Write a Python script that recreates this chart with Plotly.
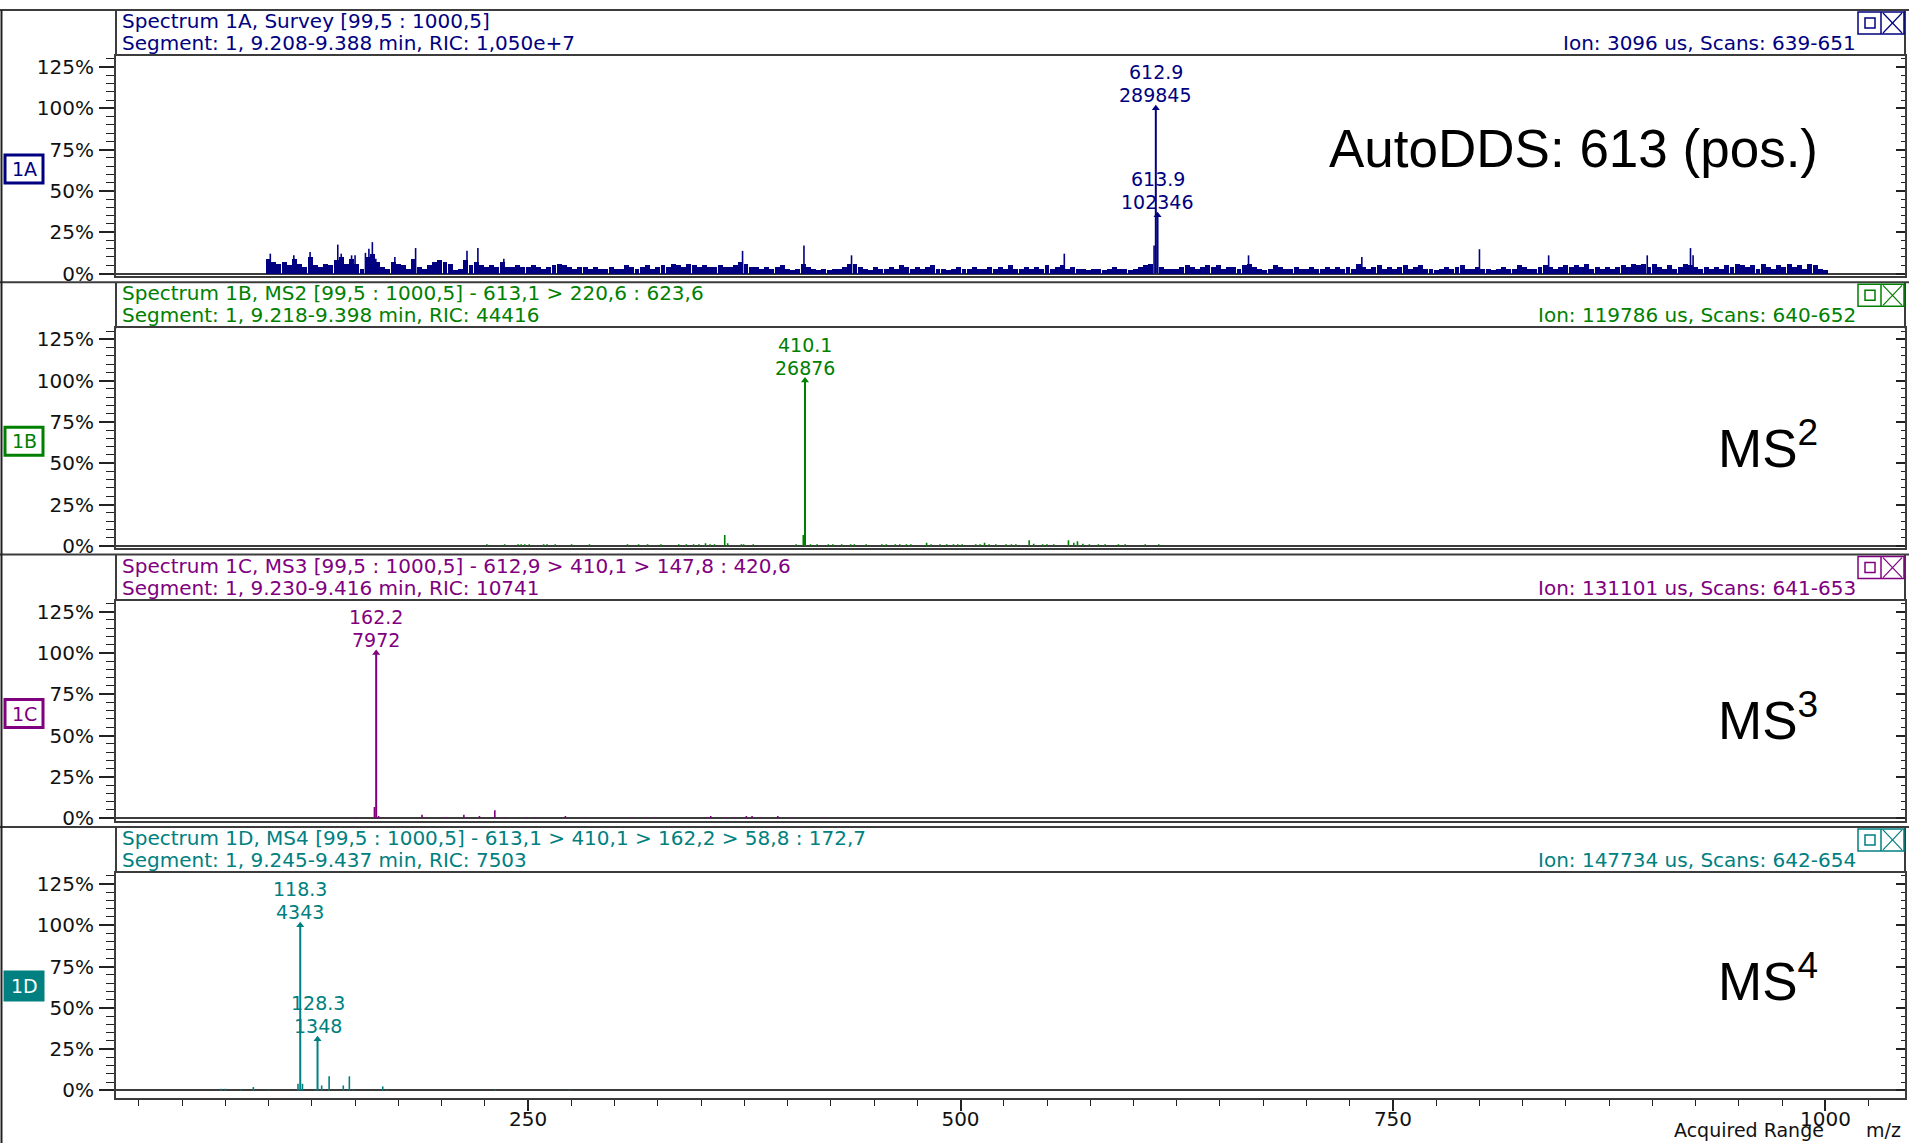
import plotly.graph_objects as go

W, H = 1909, 1143

# ---------------- data ----------------
panel_ids = ["1A", "1B", "1C", "1D"]
panel_colors = ["#000080", "#008000", "#800080", "#008080"]
header_line1 = [
    "Spectrum 1A, Survey [99,5 : 1000,5]",
    "Spectrum 1B, MS2 [99,5 : 1000,5] - 613,1 > 220,6 : 623,6",
    "Spectrum 1C, MS3 [99,5 : 1000,5] - 612,9 > 410,1 > 147,8 : 420,6",
    "Spectrum 1D, MS4 [99,5 : 1000,5] - 613,1 > 410,1 > 162,2 > 58,8 : 172,7",
]
header_line2 = [
    "Segment: 1, 9.208-9.388 min, RIC: 1,050e+7",
    "Segment: 1, 9.218-9.398 min, RIC: 44416",
    "Segment: 1, 9.230-9.416 min, RIC: 10741",
    "Segment: 1, 9.245-9.437 min, RIC: 7503",
]
header_right = [
    "Ion: 3096 us, Scans: 639-651",
    "Ion: 119786 us, Scans: 640-652",
    "Ion: 131101 us, Scans: 641-653",
    "Ion: 147734 us, Scans: 642-654",
]
big_labels = ["AutoDDS: 613 (pos.)", "MS<sup>2</sup>", "MS<sup>3</sup>", "MS<sup>4</sup>"]

y_tick_vals = [0, 25, 50, 75, 100, 125]
y_tick_text = ["0%", "25%", "50%", "75%", "100%", "125%"]
x_tick_vals = [250, 500, 750, 1000]
x_tick_text = ["250", "500", "750", "1000"]
x_range = [11.8, 1046.0]

# Spectrum 1A (survey): dense noise floor, m/z 100..1000 every 3
a_noise_mz = list(range(100, 1001, 3))
a_noise_pct = [
    9, 7, 6, 7, 5, 9, 6, 4, 10, 5,
    4, 6, 5, 8, 10, 6, 9, 6, 3, 10,
    12, 7, 4, 3, 7, 6, 5, 3, 9, 4,
    3, 5, 7, 8, 7, 6, 2, 3, 8, 5,
    7, 5, 4, 5, 4, 7, 4, 4, 5, 4,
    4, 5, 4, 3, 4, 5, 6, 5, 4, 3,
    4, 4, 3, 4, 3, 3, 4, 3, 3, 5,
    4, 3, 4, 5, 3, 4, 5, 4, 6, 5,
    4, 6, 5, 4, 5, 4, 4, 5, 4, 4,
    5, 7, 6, 4, 4, 3, 4, 3, 4, 5,
    3, 2, 3, 6, 4, 3, 2, 3, 2, 3,
    3, 4, 6, 6, 4, 3, 2, 4, 3, 3,
    4, 3, 5, 4, 3, 4, 3, 4, 5, 3,
    3, 2, 3, 4, 3, 3, 4, 3, 3, 4,
    3, 4, 3, 5, 3, 3, 4, 3, 4, 3,
    5, 3, 4, 5, 3, 4, 3, 3, 2, 3,
    3, 2, 3, 4, 3, 3, 2, 3, 4, 5,
    6, 0, 4, 3, 3, 3, 4, 5, 4, 3,
    4, 5, 4, 5, 3, 4, 4, 3, 5, 6,
    4, 3, 2, 3, 5, 4, 3, 3, 4, 3,
    3, 4, 3, 3, 4, 3, 4, 3, 4, 3,
    6, 4, 3, 4, 5, 3, 4, 3, 4, 5,
    3, 4, 5, 3, 3, 2, 3, 4, 3, 4,
    5, 3, 3, 4, 3, 3, 2, 3, 4, 3,
    3, 5, 4, 3, 3, 4, 5, 4, 3, 4,
    5, 4, 5, 4, 6, 3, 4, 3, 4, 3,
    4, 5, 4, 6, 5, 6, 4, 6, 4, 3,
    5, 3, 4, 6, 5, 4, 3, 4, 3, 4,
    3, 5, 4, 6, 5, 4, 5, 3, 6, 4,
    3, 5, 4, 6, 4, 5, 3, 6, 5, 3,
    2,
]
a_spike_mz = [101, 114.6, 124, 140, 142, 148, 150, 156, 158, 160,
              162, 173, 185, 214.7, 221, 236, 374, 409.5, 437, 560,
              611.9, 666.5, 732, 800, 840, 897, 922, 923.5]
a_spike_pct = [12, 11, 13, 17.5, 12, 11, 11, 12.5, 15, 19,
               9, 10, 15.4, 13.7, 15.4, 9, 13.7, 17, 11, 12,
               17, 11, 10, 14.7, 11, 11, 15.4, 11]
a_peak_mz = [612.9, 613.9]
a_peak_pct = [100.0, 35.3]
a_peak_int = ["289845", "102346"]

# Spectrum 1B (MS2)
b_small_mz = [226.2, 236.5, 244.2, 246.0, 248.1, 250.7, 259.0, 261.0, 265.7, 275.2,
              285.5, 307.5, 313.9, 319.1, 326.8, 337.1, 341.5, 345.7, 348.8, 352.6,
              355.2, 357.8, 363.7, 365.4, 373.3, 374.6, 380.2, 405.0, 409.1, 413.3,
              417.1, 423.6, 426.2, 431.3, 436.5, 438.6, 445.5, 454.6, 457.1, 462.3,
              464.9, 468.7, 471.3, 480.4, 483.0, 488.1, 492.0, 495.9, 498.4, 501.0,
              508.8, 511.3, 513.9, 516.5, 520.4, 526.3, 529.4, 532.0, 539.7, 542.3,
              547.5, 550.0, 553.9, 562.4, 565.5, 567.6, 570.7, 574.5, 579.7, 583.6,
              591.3, 595.2, 606.8, 614.6]
b_small_pct = [0.9, 0.9, 0.9, 0.9, 0.9, 0.9, 0.9, 0.9, 0.9, 1.0,
               0.9, 0.9, 0.9, 0.9, 0.9, 0.9, 0.9, 0.9, 0.9, 1.5,
               0.9, 0.9, 6.5, 1.6, 0.9, 0.9, 0.9, 0.9, 6.5, 0.9,
               0.9, 0.9, 0.9, 0.9, 0.9, 0.9, 0.9, 0.9, 0.9, 0.9,
               0.9, 0.9, 0.9, 1.8, 0.9, 0.9, 0.9, 0.9, 0.9, 0.9,
               0.9, 0.9, 1.8, 0.9, 0.9, 0.9, 0.9, 0.9, 3.4, 1.2,
               0.9, 0.9, 0.9, 3.4, 1.8, 2.8, 1.2, 0.9, 0.9, 0.9,
               0.9, 0.9, 0.9, 0.9]
b_peak_mz = [410.1]
b_peak_pct = [100.0]
b_peak_int = ["26876"]

# Spectrum 1C (MS3)
c_small_mz = [150.5, 161.2, 163.6, 166.5, 188.7, 201.0, 203.0, 212.9, 221.9, 230.8,
              236.8, 249.4, 254.0, 271.6, 283.2, 309.8, 318.1, 323.0, 352.9, 355.6,
              364.6, 369.5, 376.2, 379.5, 384.5, 394.4, 402.7, 421.0]
c_small_pct = [0.7, 6.7, 1.2, 0.7, 2.0, 0.7, 0.7, 2.0, 1.2, 4.7,
               0.7, 0.7, 0.7, 1.2, 0.7, 0.7, 0.7, 0.7, 0.7, 1.2,
               0.7, 0.7, 1.2, 1.2, 0.7, 1.2, 0.7, 0.7]
c_peak_mz = [162.2]
c_peak_pct = [100.0]
c_peak_int = ["7972"]

# Spectrum 1D (MS4)
d_small_mz = [72.5, 75.0, 84.0, 91.2, 100.0, 117.0, 119.6, 127.0, 130.7, 135.0,
              143.2, 146.7, 149.0, 166.0, 168.5, 231.0, 274.0]
d_small_pct = [1.0, 1.0, 0.5, 2.0, 0.5, 4.0, 4.0, 0.6, 3.0, 8.5,
               3.0, 8.5, 0.6, 2.4, 0.6, 0.5, 0.5]
d_peak_mz = [118.3, 128.3]
d_peak_pct = [100.0, 31.0]
d_peak_int = ["4343", "1348"]

small_sets = [(a_spike_mz, a_spike_pct), (b_small_mz, b_small_pct),
              (c_small_mz, c_small_pct), (d_small_mz, d_small_pct)]
peak_sets = [(a_peak_mz, a_peak_pct, a_peak_int), (b_peak_mz, b_peak_pct, b_peak_int),
             (c_peak_mz, c_peak_pct, c_peak_int), (d_peak_mz, d_peak_pct, d_peak_int)]

# ---------------- layout helpers ----------------
SMALL = "DejaVu Sans"
BIG = "Liberation Sans, Arial"
FRAME = "#3c3c3c"


def py(y):
    return 1 - y / H


def px(x):
    return x / W


def sticks(xs, ys):
    sx, sy = [], []
    for x, y in zip(xs, ys):
        sx += [x, x, None]
        sy += [0, y, None]
    return sx, sy


X0, X1 = 116, 1905
fig = go.Figure()
shapes = []
annotations = []
layout = {}

big_center = [138.5, 162, 162, 151]  # offset from panel top

for k in range(4):
    T = 10 + 272.3 * k
    top = T + 46
    bot = T + (266 if k < 3 else 271)
    zero = T + 263.5
    p125 = T + 57
    ppp = (zero - p125) / 125.0
    yr = [-(bot - zero) / ppp, 125 + (p125 - top) / ppp]
    col = panel_colors[k]
    sfx = "" if k == 0 else str(k + 1)
    xa, ya = "x" + sfx, "y" + sfx
    ra = "y" + str(k + 5)

    xdict = dict(domain=[px(X0), px(X1)], range=x_range, anchor=ya,
                 showline=True, linecolor=FRAME, linewidth=2, mirror=True,
                 showgrid=False, zeroline=False, fixedrange=True, automargin=False)
    if k == 3:
        xdict.update(tickvals=x_tick_vals, ticktext=x_tick_text, ticks="outside",
                     ticklen=11, tickwidth=1.5, tickcolor="#222", ticklabelstandoff=-9,
                     tickfont=dict(family=SMALL, size=20, color="#111"),
                     minor=dict(dtick=25, tick0=0, ticks="outside", ticklen=6,
                                tickwidth=1.2, tickcolor="#222"))
    else:
        xdict.update(showticklabels=False, ticks="")
    layout["xaxis" + sfx] = xdict

    layout["yaxis" + sfx] = dict(
        domain=[py(bot), py(top)], range=yr, anchor=xa, automargin=False,
        showline=True, linecolor=FRAME, linewidth=2, mirror=True,
        showgrid=False, zeroline=True, zerolinecolor=FRAME, zerolinewidth=2,
        tickvals=y_tick_vals, ticktext=y_tick_text, ticks="outside",
        ticklen=15, tickwidth=1.5, tickcolor="#222", ticklabelstandoff=1,
        tickfont=dict(family=SMALL, size=20, color="#111"),
        minor=dict(dtick=5, tick0=0, ticks="outside", ticklen=8,
                   tickwidth=1.2, tickcolor="#222"),
        fixedrange=True)
    layout["yaxis" + str(k + 5)] = dict(
        overlaying=ya, side="right", anchor=xa, range=yr, automargin=False,
        showline=False, showgrid=False, zeroline=False, showticklabels=False,
        tickvals=y_tick_vals, ticks="inside", ticklen=9, tickwidth=1.5,
        tickcolor="#222",
        minor=dict(dtick=5, tick0=0, ticks="inside", ticklen=4,
                   tickwidth=1.2, tickcolor="#222"),
        fixedrange=True)
    fig.add_trace(go.Scatter(x=[None], y=[None], xaxis=xa, yaxis=ra,
                             showlegend=False, hoverinfo="skip"))

    # data traces
    if k == 0:
        fig.add_trace(go.Bar(x=a_noise_mz, y=a_noise_pct, width=2.85,
                             marker=dict(color=col, line=dict(width=0)),
                             xaxis=xa, yaxis=ya, showlegend=False))
    smx, smy = small_sets[k]
    sx, sy = sticks(smx, smy)
    fig.add_trace(go.Scatter(x=sx, y=sy, mode="lines",
                             line=dict(color=col, width=1.6),
                             xaxis=xa, yaxis=ya, showlegend=False))
    pmz, ppct, pint = peak_sets[k]
    sx, sy = sticks(pmz, ppct)
    fig.add_trace(go.Scatter(x=sx, y=sy, mode="lines",
                             line=dict(color=col, width=2),
                             xaxis=xa, yaxis=ya, showlegend=False))
    fig.add_trace(go.Scatter(x=pmz, y=ppct, mode="markers",
                             marker=dict(symbol="triangle-up", size=7, color=col),
                             xaxis=xa, yaxis=ya, showlegend=False))
    for m, p, it in zip(pmz, ppct, pint):
        annotations.append(dict(x=m, y=p, xref=xa, yref=ya, text=f"{m:.1f}",
                                showarrow=False, yshift=36, yanchor="middle",
                                font=dict(family=SMALL, size=19, color=col)))
        annotations.append(dict(x=m, y=p, xref=xa, yref=ya, text=it,
                                showarrow=False, yshift=13, yanchor="middle",
                                font=dict(family=SMALL, size=19, color=col)))

    # header text
    annotations.append(dict(x=px(120), y=py(T + 11), xref="paper", yref="paper",
                            text=header_line1[k], showarrow=False, xanchor="left",
                            yanchor="middle", font=dict(family=SMALL, size=20, color=col)))
    annotations.append(dict(x=px(120), y=py(T + 33), xref="paper", yref="paper",
                            text=header_line2[k], showarrow=False, xanchor="left",
                            yanchor="middle", font=dict(family=SMALL, size=20, color=col)))
    annotations.append(dict(x=px(1858), y=py(T + 33), xref="paper", yref="paper",
                            text=header_right[k], showarrow=False, xanchor="right",
                            yanchor="middle", font=dict(family=SMALL, size=20, color=col)))
    # big label
    annotations.append(dict(x=px(1820), y=py(T + big_center[k]),
                            xref="paper", yref="paper", text=big_labels[k],
                            showarrow=False, xanchor="right", yanchor="middle",
                            font=dict(family=BIG, size=53, color="#000")))

    # panel separator (full width)
    shapes.append(dict(type="line", xref="paper", yref="paper", x0=0, x1=1,
                       y0=py(T), y1=py(T), line=dict(color=FRAME, width=2)))
    # header box sides
    for xv in (X0, X1):
        shapes.append(dict(type="line", xref="paper", yref="paper", x0=px(xv), x1=px(xv),
                           y0=py(T), y1=py(top), line=dict(color=FRAME, width=2)))
    # window icons
    shapes.append(dict(type="rect", xref="paper", yref="paper", x0=px(1858), x1=px(1904),
                       y0=py(T + 24), y1=py(T + 2), line=dict(color=col, width=1.5)))
    shapes.append(dict(type="line", xref="paper", yref="paper", x0=px(1881), x1=px(1881),
                       y0=py(T + 24), y1=py(T + 2), line=dict(color=col, width=1.5)))
    shapes.append(dict(type="rect", xref="paper", yref="paper", x0=px(1865), x1=px(1875),
                       y0=py(T + 18), y1=py(T + 8), line=dict(color=col, width=1.5)))
    shapes.append(dict(type="line", xref="paper", yref="paper", x0=px(1883), x1=px(1902),
                       y0=py(T + 3), y1=py(T + 23), line=dict(color=col, width=1.2)))
    shapes.append(dict(type="line", xref="paper", yref="paper", x0=px(1883), x1=px(1902),
                       y0=py(T + 23), y1=py(T + 3), line=dict(color=col, width=1.2)))
    # spectrum id box
    shapes.append(dict(type="rect", xref="paper", yref="paper", x0=px(5), x1=px(43),
                       y0=py(T + 173), y1=py(T + 145),
                       line=dict(color=col, width=3),
                       fillcolor=col if k == 3 else "white"))
    annotations.append(dict(x=px(24), y=py(T + 159), xref="paper", yref="paper",
                            text=panel_ids[k], showarrow=False, xanchor="center",
                            yanchor="middle",
                            font=dict(family=SMALL, size=19,
                                      color="white" if k == 3 else col)))

# left window border
shapes.append(dict(type="line", xref="paper", yref="paper", x0=px(1.5), x1=px(1.5),
                   y0=py(H), y1=py(10), line=dict(color="#222", width=2)))

annotations.append(dict(x=px(1826), y=py(1130), xref="paper", yref="paper",
                        text="Acquired Range", showarrow=False, xanchor="right",
                        yanchor="middle", font=dict(family=SMALL, size=19, color="#111")))
annotations.append(dict(x=px(1903), y=py(1130), xref="paper", yref="paper",
                        text="m/z", showarrow=False, xanchor="right",
                        yanchor="middle", font=dict(family=SMALL, size=19, color="#111")))

fig.update_layout(width=W, height=H, autosize=False,
                  margin=dict(l=0, r=0, t=0, b=0, pad=0, autoexpand=False),
                  paper_bgcolor="white", plot_bgcolor="white",
                  showlegend=False, bargap=0, shapes=shapes,
                  annotations=annotations, **layout)

post = ("document.documentElement.style.margin='0';"
        "document.documentElement.style.overflow='hidden';"
        "document.body.style.margin='0';document.body.style.overflow='hidden';"
        "var gd=document.getElementById('{plot_id}');"
        "Plotly.relayout(gd,{width:1909,height:1143});")

fig.write_html("out.html", config={"displayModeBar": False, "responsive": False},
               post_script=post)
